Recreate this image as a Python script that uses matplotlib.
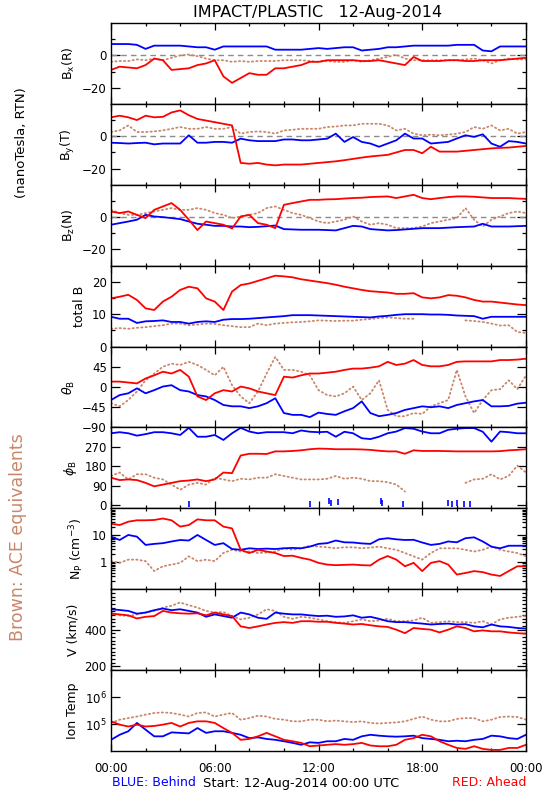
import numpy as np
import matplotlib
matplotlib.use("Agg")
import matplotlib.pyplot as plt
from matplotlib.ticker import FixedLocator, MultipleLocator, NullFormatter, LogLocator, FixedFormatter

# ---------------- data (30-min samples, hours since 12-Aug-2014 00:00 UTC) -------------
hours = np.linspace(0, 24, 49)
nan = np.nan

bx_blue = [7, 7, 7, 6.5, 4, 6, 6, 6, 6, 5.5, 5, 5,
           3.5, 5.5, 5.5, 5.5, 5.5, 5.5, 5.5, 3.5, 3.5, 3.5, 3.5, 4,
           4.5, 4, 4.5, 5, 5, 3, 3.5, 4, 5, 5, 5.5, 6,
           6, 6, 6, 6, 6.5, 6.5, 6.5, 3, 2.5, 5.5, 5.5, 5.5, 5.5]
bx_red = [-9, -7, -7.5, -8, -6, -2, -3, -9, -8.5, -8, -6, -5,
          -3, -13, -17, -14, -11, -12, -12, -8, -8, -7, -6, -4,
          -4, -3, -3, -3, -3, -3.5, -3.5, -3, -4, -5, -6, -1,
          -3.5, -3.5, -3.5, -3, -3, -3.5, -3.5, -3, -3, -3, -2.5, -2, -1.5]
bx_brown = [-4, -3.5, -3.5, -2.5, -3, -2, -3, -1.5, 0, 0.5, -0.5, -2,
            -3, -3, -4, -3.5, -4, -3.5, -3.5, -3.5, -3, -3, -3, -3.5,
            -4, -3.5, -4, -4, -3, -4, -3, -2, -1, 0.5, -2, -3,
            -3, -3, -3, -3, -3, -2.5, -2, -3, -5, -3, -2, -2.5, -2.5]

by_red = [11.7, 12.7, 11.7, 10, 12.7, 11.7, 12, 14.7, 16, 13, 10.7, 9.7,
          8.7, 7.7, 6.7, -16.5, -17, -16.5, -17.5, -18, -17.5, -17.5, -17.5, -17,
          -16.5, -16, -15.5, -14.8, -14, -13.2, -12.5, -12, -11.5, -10, -8.5, -8.5,
          -10.5, -6.5, -9.5, -9.5, -9.5, -9, -8.5, -8, -7.5, -7.2, -7, -6.5, -6]
by_blue = [-4, -4.2, -4.5, -4.2, -4, -5, -4.5, -4.5, -4.5, 0.6, -4, -4,
           -3.5, -3.5, -4, -1.5, -2.5, -3, -3, -3, -2, -2, -2.5, -2.5,
           -2, -1.5, 1.6, -3.5, -0.5, -3.5, -4.5, -6.5, -4.5, -2.5, 1.6, -1.4,
           -1.4, -4.5, -4, -3.5, -1.4, 0.6, -0.4, 1.2, -4.5, -6.5, -3, -3.5, -4.5]
by_brown = [2.6, 3.6, 6.7, 2.6, 2.6, 3, 3.6, 4.6, 5.7, 4.6, 4.6, 5.7,
            4.6, 4.6, 5.7, 1.6, 2.6, 3, 2.6, 1.6, 3.6, 4, 4.6, 4.6,
            4.6, 5.7, 6, 6.7, 6.7, 7.7, 7.7, 7.7, 6.7, 3.6, 4.6, 1.6,
            0.6, 1, 0.6, 1, 1.6, 2.6, 5.7, 4.6, 6.7, 3.6, 4.6, 1.6, 2.6]

bz_red = [3.5, 2.5, 3.5, 1.4, -0.6, 4.5, 6.6, 8.7, 4.5, -1.6, -8, -2.7,
          -3.7, -4.7, -7, 0.4, 1.4, -3.7, -4.7, -6.8, 7.6, 8.7, 9.7, 10.7,
          10.7, 11, 11.1, 11.5, 11.8, 12, 12.4, 12.6, 12.8, 11.8, 12.8, 13.8,
          11.8, 11.1, 11.8, 12.4, 12.8, 12.8, 12.6, 12.2, 11.8, 11.8, 11.8, 11.5, 11.3]
bz_blue = [-4.7, -3.7, -2.7, -1.6, 1.4, 0.4, 0, -0.6, -1.2, -2.7, -4.1, -4.7,
           -5.4, -5.4, -5.8, -5.8, -6.2, -6, -5.6, -5.2, -7.4, -7.6, -7.8, -7.8,
           -7.8, -8, -8.2, -6.8, -5.4, -5.8, -7.4, -7.8, -8.2, -8, -7.6, -7.2,
           -6.8, -6.8, -6.8, -6.5, -6.2, -6, -5.8, -4.1, -5.8, -5.8, -5.8, -5.6, -5.4]
bz_brown = [4.5, 2.5, 1.4, 1.4, 2.5, 3.5, 4.5, 5.6, 4.5, 4.5, 5.6, 4.5,
            2.5, 1.4, -0.6, 0.4, 1.4, 2.5, 5.6, 6.6, 4.5, 2.5, 1.4, -0.6,
            -2.7, -3.7, -2.7, -1.6, 0.4, -2.7, -4.7, -3.7, -4.7, -6.8, -6.8, -6.8,
            -5.8, -3.7, -2.7, -1.6, -0.6, 5.6, -1.6, -5.8, -1.6, 0.4, 2.5, 3.5, 2.5]

totb_red = [14.9, 15.4, 16, 14.4, 11.8, 11.3, 13.9, 15.4, 17.5, 18.5, 18, 14.9,
            13.9, 11.3, 17, 19, 19.5, 20.3, 21.1, 21.9, 21.7, 21.4, 20.8, 20.4,
            20, 19.6, 19.1, 18.5, 18, 17.5, 17.1, 16.9, 16.7, 16.3, 16.3, 16.5,
            15.2, 14.9, 15.2, 15.9, 15.7, 15.2, 14.4, 13.9, 13.9, 13.6, 13.3, 13, 12.8]
totb_blue = [9.2, 8.6, 8.6, 7.3, 7.8, 7.9, 8.1, 7.6, 7.6, 7.1, 7.6, 7.8,
             7.6, 8.3, 8.5, 8.5, 8.6, 8.8, 9, 9.2, 9.4, 9.7, 9.7, 9.7,
             9.6, 9.5, 9.4, 9.3, 9.2, 9.1, 9, 9.3, 9.5, 9.8, 10, 10,
             10, 9.9, 9.9, 9.8, 9.6, 9.5, 9.4, 8.6, 9.2, 9.2, 9.2, 9.2, 9.2]
totb_brown = [5.5, 5.7, 5.5, 5.8, 6, 6.3, 6.6, 7.1, 7.1, 6.6, 6.8, 7.1,
              7, 6.6, 6.3, 6, 6, 7.1, 6.6, 7.1, 7.3, 7.5, 7.6, 7.8,
              8.1, 8, 7.9, 8, 8, 8.3, 8.5, 8.8, 9, 8.8, 8.6, 8.6,
              nan, nan, nan, nan, nan, 8.1, 7.9, 7.6, 7.1, 6.5, 6.6, 4.5, 4.2]

theta_red = [12, 12, 10, 8, 19, 26, 34, 30, 38, 23, -21, -29,
             -14, -7, -10, 1, -3, -10, -14, -18, 23, 21, 26, 30,
             30, 32, 34, 38, 41, 41, 43, 46, 56, 49, 52, 60,
             49, 46, 46, 49, 56, 57, 57, 57, 57, 60, 60, 61, 63]
theta_blue = [-29, -18, -14, -3, -14, -7, 1, 4, -7, -10, -18, -21,
              -29, -40, -43, -43, -47, -43, -36, -25, -58, -62, -62, -67,
              -57, -60, -62, -54, -47, -32, -58, -65, -62, -58, -51, -47,
              -43, -45, -43, -47, -40, -36, -32, -29, -43, -43, -42, -37, -35]
theta_brown = [-36, -43, -29, -10, 15, 30, 45, 52, 49, 56, 49, 38,
               26, 45, 4, -21, -36, -10, 30, 67, 38, 38, 34, 26,
               -7, -18, -21, -14, 1, -29, -14, 15, -51, -65, -65, -58,
               -60, -43, -36, -29, 38, -21, -58, -29, -7, -5, 15, -5, 26]

phi_red = [127, 116, 119, 116, 103, 87, 95, 103, 111, 114, 119, 111,
           119, 151, 148, 230, 238, 238, 237, 249, 249, 251, 254, 259,
           262, 261, 259, 259, 259, 258, 256, 252, 249, 249, 238, 254,
           251, 251, 251, 250, 249, 249, 249, 249, 249, 250, 254, 256, 259]
phi_blue = [333, 338, 333, 322, 329, 338, 338, 333, 325, 358, 317, 317,
            325, 302, 333, 358, 341, 333, 338, 338, 338, 333, 346, 340,
            338, 340, 317, 340, 333, 310, 306, 317, 333, 341, 357, 354,
            341, 333, 333, 349, 354, 357, 357, 340, 294, 341, 338, 333, 333]
phi_blue_wrap_hours = [4.5, 11.5, 12.6, 12.7, 13.1, 15.6, 15.7, 16.9, 19.5, 19.7, 20.0, 20.4, 20.75]
phi_blue_wrap = [5, 3, 20, 8, 15, 18, 8, 3, 10, 5, 8, 4, 6]
phi_brown = [135, 151, 119, 143, 143, 127, 119, 95, 71, 95, 103, 95,
             127, 119, 111, 122, 119, 127, 127, 143, 135, 127, 119, 119,
             119, 122, 135, 122, 127, 122, 111, 111, 106, 95, 63, nan,
             nan, nan, nan, nan, nan, 103, 119, 122, 143, 119, 135, 183, 151]

np_red = [27, 24, 32, 36, 36, 37, 42, 36, 21, 24, 39, 36,
          36, 21, 18, 2.9, 2.2, 2.9, 2.5, 2.2, 1.7, 1.75, 1.45, 1.25,
          0.95, 0.82, 0.78, 0.8, 0.82, 0.78, 0.76, 1.25, 1.7, 1.25, 0.71, 0.95,
          0.47, 0.95, 1.1, 0.82, 0.35, 0.4, 0.47, 0.43, 0.35, 0.31, 0.47, 0.71, 0.71]
np_blue = [8.9, 6.7, 10.3, 8.9, 4.4, 4.8, 5.1, 5.9, 6.7, 6.4, 10.3, 6.7,
           4.4, 5.1, 3.1, 2.9, 3.3, 3.1, 3.2, 3.1, 3.3, 3.4, 3.3, 3.8,
           4.8, 5.1, 6.4, 5.5, 5.4, 5, 4.8, 7.1, 7.8, 7.1, 6.7, 6.8,
           5.4, 4.4, 4.8, 5.9, 5.5, 7.8, 8.4, 5.9, 3.8, 3.3, 4.1, 4.1, 4.1]
np_brown = [1.1, 0.95, 1.25, 1.25, 1.1, 0.47, 0.71, 0.82, 0.95, 1.66, 1.1, 1.25,
            1.1, 2.2, 2.9, 2.5, 2.5, 2.2, 2.3, 2.5, 3.3, 2.9, 3.3, 4.1,
            3.8, 3.6, 3.3, 3.6, 3.6, 3.3, 3.5, 3.8, 3.3, 2.9, 2.2, 1.66,
            1.25, 2.2, 3.3, 3.3, 3.3, 2.9, 2.5, 2.9, 3.8, 2.9, 2.5, 2.2, 1.66]

v_red = [487, 483, 478, 461, 470, 474, 502, 493, 489, 487, 489, 478,
         493, 483, 474, 418, 409, 418, 428, 437, 441, 437, 446, 446,
         443, 443, 437, 433, 428, 431, 424, 418, 415, 400, 381, 409,
         404, 400, 385, 400, 418, 409, 391, 396, 391, 391, 385, 381, 378]
v_blue = [511, 507, 502, 487, 493, 506, 515, 506, 511, 502, 493, 470,
          483, 474, 465, 493, 483, 465, 459, 493, 487, 483, 483, 478,
          474, 476, 470, 472, 478, 465, 470, 459, 446, 441, 441, 437,
          433, 428, 431, 433, 428, 430, 418, 413, 428, 418, 415, 409, 406]
v_brown = [493, 478, 474, 483, 493, 502, 520, 530, 548, 533, 520, 502,
           493, 496, 474, 456, 465, 483, 511, 502, 470, 459, 470, 465,
           456, 446, 441, 437, 446, 456, 446, 450, 459, 446, 446, 450,
           465, 437, 441, 446, 441, 441, 437, 446, 428, 456, 465, 470, 474]

# ion temperature in units of 1e5 K
temp_red = [1.26, 0.95, 0.81, 0.95, 0.81, 0.85, 0.95, 1.10, 0.81, 1.10, 1.26, 1.26,
            1.10, 0.71, 0.47, 0.26, 0.28, 0.35, 0.47, 0.35, 0.26, 0.23, 0.20, 0.15,
            0.16, 0.17, 0.18, 0.17, 0.18, 0.20, 0.16, 0.15, 0.15, 0.17, 0.26, 0.30,
            0.40, 0.35, 0.23, 0.17, 0.13, 0.12, 0.15, 0.12, 0.11, 0.11, 0.13, 0.13, 0.17]
temp_blue = [0.26, 0.40, 0.54, 1.10, 0.62, 0.35, 0.35, 0.49, 0.47, 0.45, 0.71, 0.47,
             0.54, 0.54, 0.47, 0.40, 0.30, 0.32, 0.28, 0.26, 0.23, 0.20, 0.17, 0.21,
             0.20, 0.23, 0.23, 0.28, 0.26, 0.35, 0.40, 0.37, 0.35, 0.34, 0.35, 0.37,
             0.30, 0.28, 0.26, 0.23, 0.24, 0.23, 0.26, 0.28, 0.37, 0.35, 0.30, 0.28, 0.40]
temp_brown = [1.10, 1.45, 1.66, 1.9, 2.24, 2.57, 2.69, 2.57, 2.24, 1.9, 2.57, 2.69,
              1.9, 2.24, 2.57, 1.45, 1.66, 2.04, 1.9, 1.55, 1.45, 1.26, 1.26, 1.45,
              1.45, 1.26, 1.35, 1.26, 1.18, 1.26, 1.10, 1.05, 1.10, 1.15, 1.26, 1.55,
              1.9, 1.45, 1.26, 1.26, 1.55, 1.66, 1.66, 1.26, 1.45, 1.82, 1.9, 1.82, 1.45]

time_tick_labels = ["00:00", "06:00", "12:00", "18:00", "00:00"]

# ---------------- styling -------------
RED = "#ff0000"
BLUE = "#0000ff"
BROWN = "#c9866a"
plt.rcParams["font.family"] = ["DejaVu Sans"]
plt.rcParams["mathtext.fontset"] = "dejavusans"

W, H = 550, 800
fig = plt.figure(figsize=(W / 100, H / 100), dpi=100)
left, right, top, bottom = 111, 526, 23, 751
n = 9
ph = (bottom - top) / n
axes = []
for i in range(n):
    y_top = top + i * ph
    ax = fig.add_axes([left / W, 1 - (y_top + ph) / H, (right - left) / W, ph / H])
    axes.append(ax)


def style(ax, last=False):
    ax.set_xlim(0, 24)
    ax.xaxis.set_major_locator(MultipleLocator(6))
    ax.xaxis.set_minor_locator(MultipleLocator(2))
    ax.tick_params(axis="both", which="both", direction="in", top=True, right=True,
                   labelsize=8.5, width=0.9, colors="black")
    ax.tick_params(axis="x", which="major", length=5)
    ax.tick_params(axis="x", which="minor", length=2.5)
    ax.tick_params(axis="y", which="major", length=6.5, pad=3)
    ax.tick_params(axis="y", which="minor", length=3)
    for s in ax.spines.values():
        s.set_linewidth(1.0)
    if last:
        ax.set_xticks([0, 6, 12, 18, 24])
        ax.set_xticklabels(time_tick_labels)
        ax.tick_params(axis="x", pad=8)
    else:
        ax.xaxis.set_major_formatter(NullFormatter())


def lines(ax, red, blue, brown, t=hours):
    ax.plot(t, brown, color=BROWN, lw=1.3, linestyle=(0, (0.7, 1.7)), dash_capstyle="round")
    ax.plot(t, blue, color=BLUE, lw=1.3)
    ax.plot(t, red, color=RED, lw=1.3)


lab_kw = dict(fontsize=9, labelpad=4)

# B components
for ax, (r, b, br), lab in zip(axes[:3],
                               [(bx_red, bx_blue, bx_brown), (by_red, by_blue, by_brown),
                                (bz_red, bz_blue, bz_brown)],
                               ["B$_\\mathrm{x}$(R)", "B$_\\mathrm{y}$(T)", "B$_\\mathrm{z}$(N)"]):
    ax.axhline(0, color="#8c8c8c", lw=1.0, linestyle=(0, (4, 3)))
    lines(ax, r, b, br)
    ax.set_ylim(-30, 20)
    ax.set_yticks([-20, 0])
    ax.yaxis.set_minor_locator(FixedLocator([-10, 10]))
    ax.set_ylabel(lab, **lab_kw)

# total B
ax = axes[3]
lines(ax, totb_red, totb_blue, totb_brown)
ax.set_ylim(0, 25)
ax.set_yticks([0, 10, 20])
ax.yaxis.set_minor_locator(FixedLocator([5, 15]))
ax.set_ylabel("total B", **lab_kw)

# theta
ax = axes[4]
lines(ax, theta_red, theta_blue, theta_brown)
ax.set_ylim(-90, 90)
ax.set_yticks([-90, -45, 0, 45])
ax.set_yticklabels(["\u221290", "\u221245", "0", "45"])
ax.set_ylabel("$\\theta_\\mathrm{B}$", **lab_kw)

# phi
ax = axes[5]
lines(ax, phi_red, phi_blue, phi_brown)
ax.plot(phi_blue_wrap_hours, phi_blue_wrap, linestyle="none", marker="|", markersize=5,
        color=BLUE, mew=1.2)
ax.set_ylim(-15, 360)
ax.set_yticks([0, 90, 180, 270])
ax.set_ylabel("$\\phi_\\mathrm{B}$", **lab_kw)

# density
ax = axes[6]
lines(ax, np_red, np_blue, np_brown)
ax.set_yscale("log")
ax.set_ylim(0.1, 100)
ax.yaxis.set_major_locator(FixedLocator([1, 10]))
ax.yaxis.set_major_formatter(FixedFormatter(["1", "10"]))
ax.yaxis.set_minor_locator(LogLocator(base=10, subs=np.arange(2, 10), numticks=10))
ax.yaxis.set_minor_formatter(NullFormatter())
ax.set_ylabel("N$_\\mathrm{P}$ (cm$^{-3}$)", **lab_kw)

# speed
ax = axes[7]
lines(ax, v_red, v_blue, v_brown)
ax.set_ylim(180, 620)
ax.set_yticks([200, 400])
ax.yaxis.set_minor_locator(MultipleLocator(20))
ax.set_ylabel("V (km/s)", **lab_kw)

# temperature
ax = axes[8]
lines(ax, np.array(temp_red) * 1e5, np.array(temp_blue) * 1e5, np.array(temp_brown) * 1e5)
ax.set_yscale("log")
ax.set_ylim(1e4, 1e7)
ax.yaxis.set_major_locator(FixedLocator([1e5, 1e6]))
ax.yaxis.set_major_formatter(FixedFormatter(["10$^5$", "10$^6$"]))
ax.yaxis.set_minor_locator(FixedLocator([]))
ax.set_ylabel("Ion Temp", **lab_kw)

for i, ax in enumerate(axes):
    style(ax, last=(i == n - 1))

fig.text(318 / W, 1 - 12 / H, "IMPACT/PLASTIC   12-Aug-2014", ha="center", va="center", fontsize=11.5)
fig.text(22 / W, 1 - 143 / H, "(nanoTesla, RTN)", rotation=90, ha="center", va="center", fontsize=9.5)
fig.text(18 / W, 1 - 537 / H, "Brown: ACE equivalents", rotation=90, ha="center", va="center",
         fontsize=12.5, color=BROWN)
fig.text(112 / W, 1 - 783 / H, "BLUE: Behind", color=BLUE, ha="left", va="center", fontsize=9)
fig.text(203 / W, 1 - 783 / H, "Start: 12-Aug-2014 00:00 UTC", color="black", ha="left", va="center", fontsize=9.4)
fig.text(526 / W, 1 - 783 / H, "RED: Ahead", color=RED, ha="right", va="center", fontsize=9)

fig.savefig("out.png", dpi=100)
